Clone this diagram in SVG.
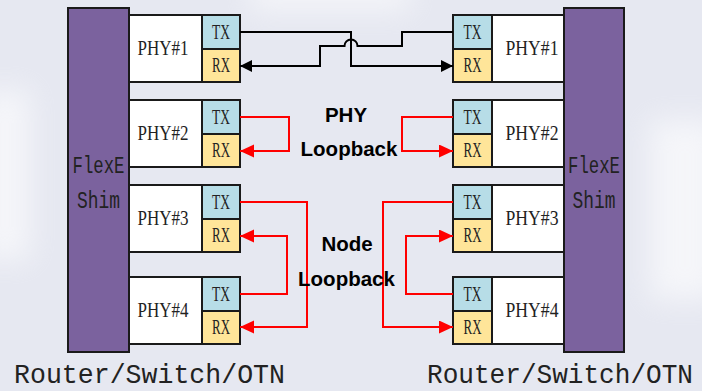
<svg xmlns="http://www.w3.org/2000/svg" width="702" height="391" viewBox="0 0 702 391">
<defs>
<style>
.shim{fill:#7B629E;stroke:#1a1a1a;stroke-width:2}
.phy{fill:#ffffff;stroke:#1a1a1a;stroke-width:2}
.tx{fill:#B7DDE7;stroke:#1a1a1a;stroke-width:2}
.rx{fill:#FFE599;stroke:#1a1a1a;stroke-width:2}
.lbl{font-family:"Liberation Serif","DejaVu Serif",serif;font-size:22px;fill:#222;text-anchor:middle}
.cell{font-family:"Liberation Serif","DejaVu Serif",serif;font-size:20px;fill:#222;text-anchor:middle}
.mono{font-family:"Liberation Mono","DejaVu Sans Mono",monospace;fill:#222;text-anchor:middle}
.bold{font-family:"Liberation Sans",Arial,sans-serif;font-weight:bold;font-size:20.5px;fill:#000;text-anchor:middle}
.blk{fill:none;stroke:#000;stroke-width:2}
.red{fill:none;stroke:#FF0000;stroke-width:2}
</style>
<marker id="ab" markerUnits="userSpaceOnUse" markerWidth="13" markerHeight="13" refX="12" refY="6" orient="auto"><path d="M0,0 L12,6 L0,12 Z" fill="#000"/></marker>
<marker id="ar" markerUnits="userSpaceOnUse" markerWidth="15" markerHeight="14" refX="14" refY="6.5" orient="auto"><path d="M0,0 L14,6.5 L0,13 Z" fill="#FF0000"/></marker>
<filter id="blur" x="-50%" y="-50%" width="200%" height="200%"><feGaussianBlur stdDeviation="14"/></filter>
</defs>
<rect x="0" y="0" width="702" height="391" fill="#E6E8F1"/>
<g filter="url(#blur)" fill="#ffffff" opacity="0.6">
<rect x="-20" y="90" width="50" height="170"/>
<rect x="650" y="120" width="70" height="180"/>
<rect x="250" y="-20" width="160" height="30"/>
</g>

<g id="shim-left"><rect class="shim" x="68" y="8" width="61" height="344"/>
<text class="mono" x="98.5" y="173" font-size="23" textLength="52" lengthAdjust="spacingAndGlyphs">FlexE</text>
<text class="mono" x="98.5" y="208" font-size="23" textLength="43" lengthAdjust="spacingAndGlyphs">Shim</text></g>
<g id="shim-right"><rect class="shim" x="564" y="8" width="60" height="344"/>
<text class="mono" x="594" y="173" font-size="23" textLength="52" lengthAdjust="spacingAndGlyphs">FlexE</text>
<text class="mono" x="594" y="208" font-size="23" textLength="43" lengthAdjust="spacingAndGlyphs">Shim</text></g>

<g id="L-phy1"><rect class="phy" x="129" y="15" width="111" height="67"/><rect class="tx" x="202" y="15" width="38" height="34"/><rect class="rx" x="202" y="49" width="38" height="33"/>
<text class="lbl" x="163" y="55" textLength="51" lengthAdjust="spacingAndGlyphs">PHY#1</text><text class="cell" x="221" y="39" textLength="18" lengthAdjust="spacingAndGlyphs">TX</text><text class="cell" x="221" y="72" textLength="18" lengthAdjust="spacingAndGlyphs">RX</text></g>
<g id="L-phy2"><rect class="phy" x="129" y="100" width="111" height="67"/><rect class="tx" x="202" y="100" width="38" height="34"/><rect class="rx" x="202" y="134" width="38" height="33"/>
<text class="lbl" x="163" y="140" textLength="51" lengthAdjust="spacingAndGlyphs">PHY#2</text><text class="cell" x="221" y="124" textLength="18" lengthAdjust="spacingAndGlyphs">TX</text><text class="cell" x="221" y="157" textLength="18" lengthAdjust="spacingAndGlyphs">RX</text></g>
<g id="L-phy3"><rect class="phy" x="129" y="185" width="111" height="67"/><rect class="tx" x="202" y="185" width="38" height="34"/><rect class="rx" x="202" y="219" width="38" height="33"/>
<text class="lbl" x="163" y="225" textLength="51" lengthAdjust="spacingAndGlyphs">PHY#3</text><text class="cell" x="221" y="209" textLength="18" lengthAdjust="spacingAndGlyphs">TX</text><text class="cell" x="221" y="242" textLength="18" lengthAdjust="spacingAndGlyphs">RX</text></g>
<g id="L-phy4"><rect class="phy" x="129" y="277" width="111" height="67"/><rect class="tx" x="202" y="277" width="38" height="34"/><rect class="rx" x="202" y="311" width="38" height="33"/>
<text class="lbl" x="163" y="317" textLength="51" lengthAdjust="spacingAndGlyphs">PHY#4</text><text class="cell" x="221" y="301" textLength="18" lengthAdjust="spacingAndGlyphs">TX</text><text class="cell" x="221" y="334" textLength="18" lengthAdjust="spacingAndGlyphs">RX</text></g>

<g id="R-phy1"><rect class="phy" x="453" y="15" width="111" height="67"/><rect class="tx" x="453" y="15" width="39" height="34"/><rect class="rx" x="453" y="49" width="39" height="33"/>
<text class="lbl" x="532" y="55" textLength="53" lengthAdjust="spacingAndGlyphs">PHY#1</text><text class="cell" x="472.5" y="39" textLength="18" lengthAdjust="spacingAndGlyphs">TX</text><text class="cell" x="472.5" y="72" textLength="18" lengthAdjust="spacingAndGlyphs">RX</text></g>
<g id="R-phy2"><rect class="phy" x="453" y="100" width="111" height="67"/><rect class="tx" x="453" y="100" width="39" height="34"/><rect class="rx" x="453" y="134" width="39" height="33"/>
<text class="lbl" x="532" y="140" textLength="53" lengthAdjust="spacingAndGlyphs">PHY#2</text><text class="cell" x="472.5" y="124" textLength="18" lengthAdjust="spacingAndGlyphs">TX</text><text class="cell" x="472.5" y="157" textLength="18" lengthAdjust="spacingAndGlyphs">RX</text></g>
<g id="R-phy3"><rect class="phy" x="453" y="185" width="111" height="67"/><rect class="tx" x="453" y="185" width="39" height="34"/><rect class="rx" x="453" y="219" width="39" height="33"/>
<text class="lbl" x="532" y="225" textLength="53" lengthAdjust="spacingAndGlyphs">PHY#3</text><text class="cell" x="472.5" y="209" textLength="18" lengthAdjust="spacingAndGlyphs">TX</text><text class="cell" x="472.5" y="242" textLength="18" lengthAdjust="spacingAndGlyphs">RX</text></g>
<g id="R-phy4"><rect class="phy" x="453" y="277" width="111" height="67"/><rect class="tx" x="453" y="277" width="39" height="34"/><rect class="rx" x="453" y="311" width="39" height="33"/>
<text class="lbl" x="532" y="317" textLength="53" lengthAdjust="spacingAndGlyphs">PHY#4</text><text class="cell" x="472.5" y="301" textLength="18" lengthAdjust="spacingAndGlyphs">TX</text><text class="cell" x="472.5" y="334" textLength="18" lengthAdjust="spacingAndGlyphs">RX</text></g>

<g id="connectors">
<path class="blk" d="M240,32 H351 V66 H453" marker-end="url(#ab)"/>
<path class="blk" d="M453,32 H402 V46 H357.5 A6.5,6.5 0 0 0 344.5,46 H320 V66 H240" marker-end="url(#ab)"/>
<path class="red" d="M240,117 H289 V151 H240" marker-end="url(#ar)"/>
<path class="red" d="M453,117 H402 V151 H453" marker-end="url(#ar)"/>
<path class="red" d="M240,202 H307 V327 H240" marker-end="url(#ar)"/>
<path class="red" d="M240,294 H287 V236 H240" marker-end="url(#ar)"/>
<path class="red" d="M453,202 H383 V327 H453" marker-end="url(#ar)"/>
<path class="red" d="M453,294 H406 V236 H453" marker-end="url(#ar)"/>
</g>

<g id="labels">
<text class="bold" x="346" y="122">PHY</text>
<text class="bold" x="349" y="155.5">Loopback</text>
<text class="bold" x="347" y="250.5">Node</text>
<text class="bold" x="346.5" y="285.5">Loopback</text>
<text class="mono" x="149.5" y="383" font-size="27" textLength="271" lengthAdjust="spacingAndGlyphs">Router/Switch/OTN</text>
<text class="mono" x="560" y="383" font-size="27" textLength="266" lengthAdjust="spacingAndGlyphs">Router/Switch/OTN</text>
</g>
</svg>
